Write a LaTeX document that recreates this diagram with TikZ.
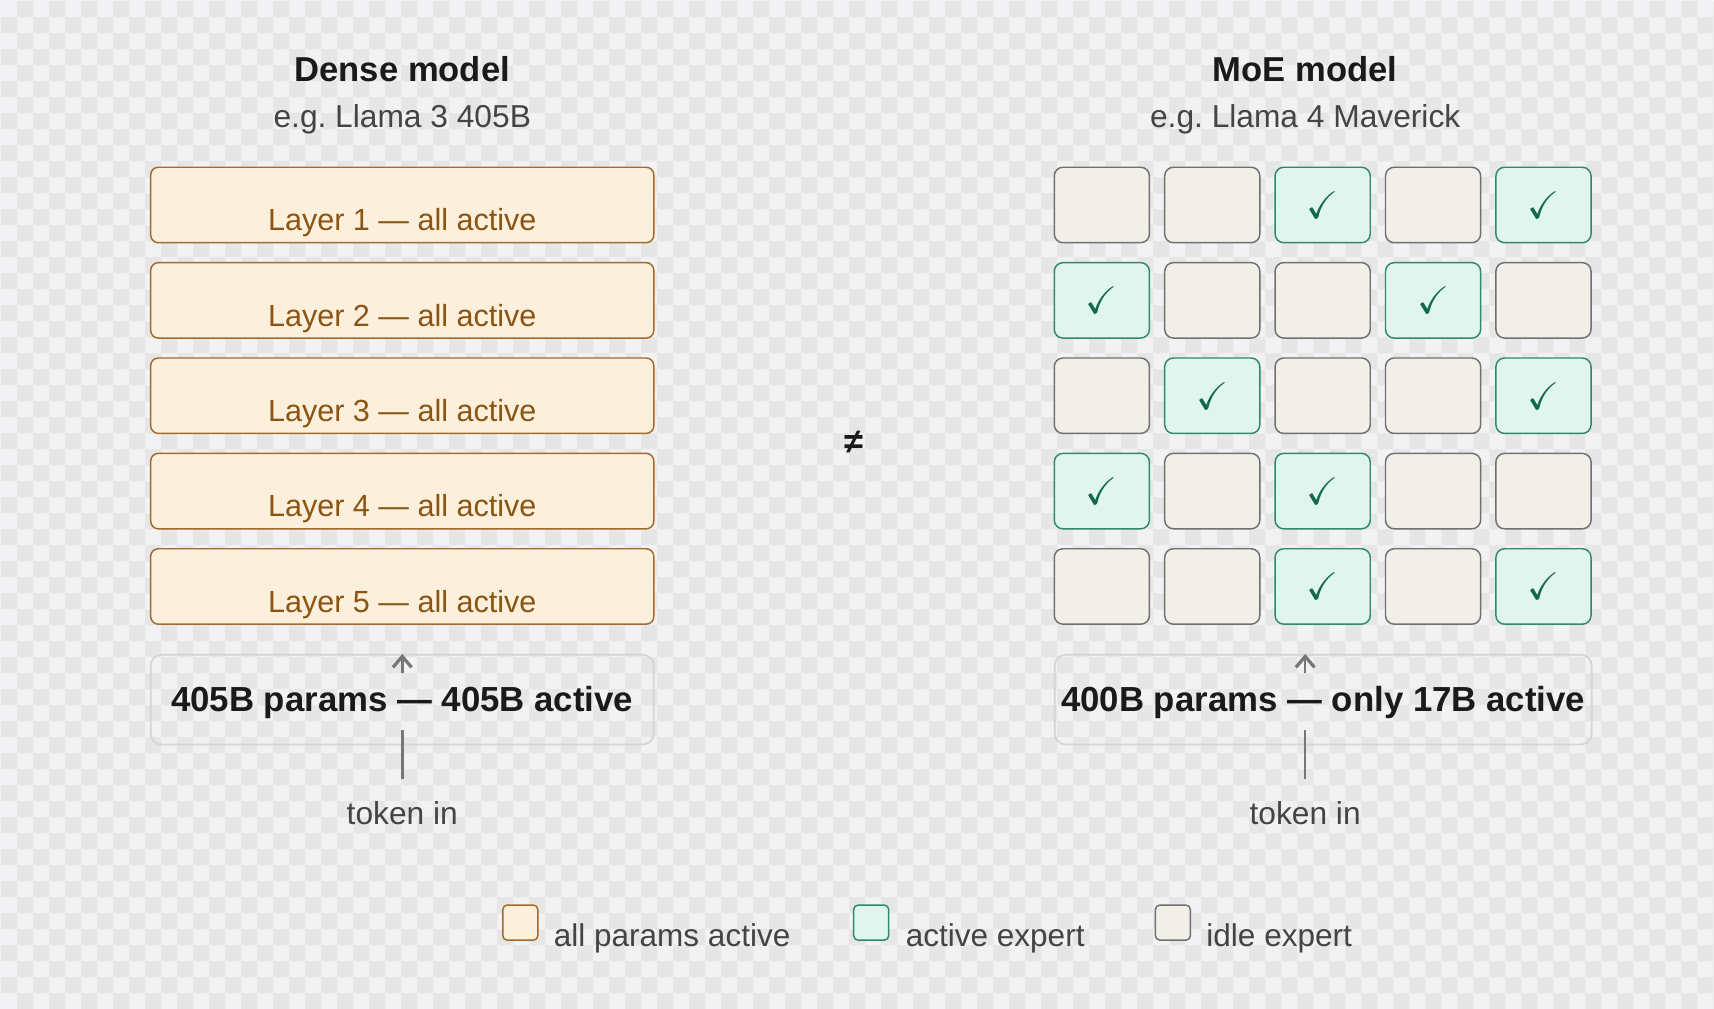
\documentclass[tikz,border=0pt]{standalone}
\usepackage{amssymb}
\usepackage{fontspec}
\setmainfont{Liberation Sans}
\usetikzlibrary{arrows.meta}

\definecolor{bgA}{HTML}{F2F2F4}
\definecolor{bgB}{HTML}{E6E6E7}
\definecolor{layfill}{HTML}{FCF0DC}
\definecolor{laydraw}{HTML}{A36A2C}
\definecolor{laytext}{HTML}{8A5414}
\definecolor{actfill}{HTML}{E0F5EE}
\definecolor{actdraw}{HTML}{2E8A68}
\definecolor{chk}{HTML}{11694C}
\definecolor{idlefill}{HTML}{F2EFE9}
\definecolor{idledraw}{HTML}{707070}
\definecolor{sumdraw}{HTML}{D4D4D7}
\definecolor{ink}{HTML}{1A1A1A}
\definecolor{subink}{HTML}{444444}
\definecolor{arrink}{HTML}{777777}

\frenchspacing
\begin{document}
\begin{tikzpicture}[x=0.01cm,y=-0.01cm,
  title/.style={anchor=base,text=ink,font=\fontsize{9}{11}\selectfont\bfseries},
  subtitle/.style={anchor=base,text=subink,font=\fontsize{8.25}{10}\selectfont},
  layer/.style={draw=laydraw,fill=layfill,line width=0.38pt,rounded corners=0.07cm,
    minimum width=4.6cm,minimum height=0.69cm,inner sep=0pt},
  layertxt/.style={anchor=base,text=laytext,font=\fontsize{7.95}{10}\selectfont},
  idlecell/.style={draw=idledraw,fill=idlefill,line width=0.38pt,rounded corners=0.08cm,
    minimum width=0.87cm,minimum height=0.69cm,inner sep=0pt},
  actcell/.style={idlecell,draw=actdraw,fill=actfill,text=chk,font=\fontsize{10}{12}\selectfont},
  sumbox/.style={draw=sumdraw,line width=0.45pt,rounded corners=0.1cm,minimum height=0.82cm,inner sep=0pt},
  sumtxt/.style={anchor=base,text=ink,font=\fontsize{9.05}{11}\selectfont\bfseries},
  stem/.style={draw=arrink,line width=0.65pt},
  tip/.style={stem,-{Straight Barb[length=0.1cm,width=0.17cm,line width=0.85pt]}},
  key/.style={line width=0.38pt,rounded corners=0.04cm,minimum size=0.32cm,inner sep=0pt},
  keytxt/.style={anchor=base west,inner sep=0pt,text=subink,font=\fontsize{8.2}{10}\selectfont}]

\useasboundingbox (0,0) rectangle (1568,923);

% background checker
\fill[bgA] (0,0) rectangle (1568,923);
\begin{scope}
\clip (0,0) rectangle (1568,923);
\foreach \r [evaluate=\r as \o using {int(mod(\r+1,2))}] in {0,...,63}
  \fill[bgB] \foreach \c in {0,...,53} {({(2*\c+\o)*14.64+0.915},{\r*14.64+0.915}) rectangle ++(14.64,14.64)};
\end{scope}

% titles
\node[title] (tdense) at (368,75) {Dense model};
\node[subtitle] (sdense) at (368,117) {e.g. Llama 3 405B};
\node[title] (tmoe) at (1194,75) {MoE model};
\node[subtitle] (smoe) at (1194,117) {e.g. Llama 4 Maverick};

% dense layers
\foreach \i in {1,...,5} {
  \node[layer] (l\i) at (368,{187.5+87.25*(\i-1)}) {};
  \node[layertxt] (lt\i) at (368,{211+87.25*(\i-1)}) {Layer \i{} --- all active};
}

% experts
\foreach \row [count=\r] in {{0,0,1,0,1},{1,0,0,1,0},{0,1,0,0,1},{1,0,1,0,0},{0,0,1,0,1}}
  \foreach \on [count=\c] in \row {
    \ifnum\on=1
      \node[actcell] (e\r\c) at ({1008+101*(\c-1)},{187.5+87.25*(\r-1)}) {$\checkmark$};
    \else
      \node[idlecell] (e\r\c) at ({1008+101*(\c-1)},{187.5+87.25*(\r-1)}) {};
    \fi
  }

\node[font=\fontsize{9}{11}\selectfont\bfseries,text=ink] (neq) at (781,405) {≠};

% summaries
\node[sumbox,minimum width=4.6cm] (sum1) at (368,640) {};
\node[sumtxt] (st1) at (368,651) {405B params --- 405B active};
\node[sumbox,minimum width=4.91cm] (sum2) at (1210.5,640) {};
\node[sumtxt] (st2) at (1210.5,651) {400B params --- only 17B active};

% token in
\node[subtitle] (tok1) at (368,754) {token in};
\node[subtitle] (tok2) at (1194,754) {token in};
\coordinate (in1) at (368,713); \coordinate (mid1) at (368,668); \coordinate (hd1) at (368,616);
\coordinate (in2) at (1194,713); \coordinate (mid2) at (1194,668); \coordinate (hd2) at (1194,616);
\draw[stem] (in1) -- (mid1);
\draw[tip] (hd1) -- (sum1.north);
\draw[stem] (in2) -- (mid2);
\draw[tip] (hd2) -- (sum2.north -| hd2);

% legend
\node[key,draw=laydraw,fill=layfill] (k1) at (476,844) {};
\node[keytxt] (kt1) at (506,866) {all params active};
\node[key,draw=actdraw,fill=actfill] (k2) at (797,844) {};
\node[keytxt] (kt2) at (828,866) {active expert};
\node[key,draw=idledraw,fill=idlefill] (k3) at (1073,844) {};
\node[keytxt] (kt3) at (1103,866) {idle expert};
\end{tikzpicture}
\end{document}
